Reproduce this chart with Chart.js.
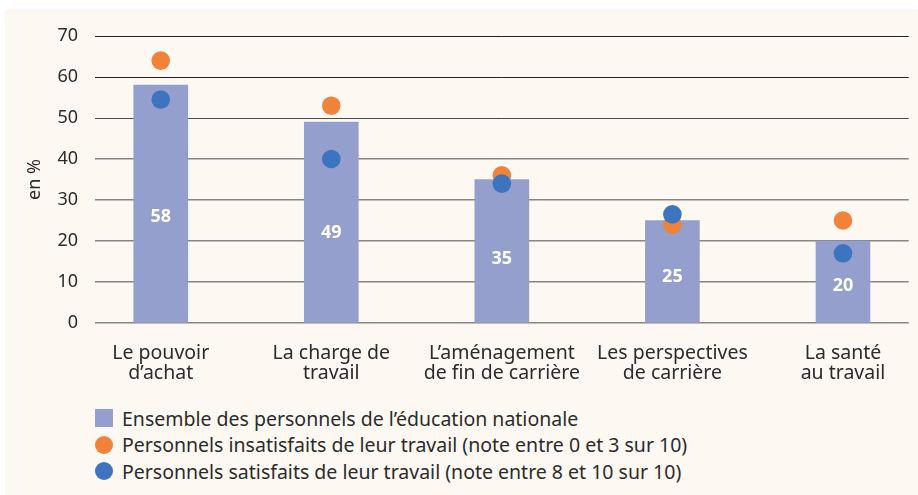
<!DOCTYPE html>
<html lang="fr">
<head>
  <meta charset="UTF-8">
  <title>Préoccupations des personnels de l'éducation nationale</title>
  <script src="https://cdn.jsdelivr.net/npm/chart.js"></script>
  <style>
    html, body { margin: 0; padding: 0; background: #ffffff; }
    body { width: 918px; height: 495px; position: relative; overflow: hidden; font-family: "Noto Sans", sans-serif; }
    .panel { position: absolute; left: 5px; top: 9px; right: 0; bottom: 0; background: #fdf8f2; }
    .chart-box { position: absolute; left: 0; top: 0; width: 918px; height: 400px; }
    #legend { position: absolute; left: 95px; top: 405px; margin: 0; padding: 0; list-style: none; }
    #legend li { height: 26.5px; display: flex; align-items: center; font-size: 19.5px; color: #2b2b2b; }
    #legend .mark { width: 18px; height: 18px; margin-right: 9px; flex: none; }
    #legend .mark.dot { border-radius: 50%; }
  </style>
</head>
<body>
<div class="panel"></div>
<div class="chart-box"><canvas id="chart" width="918" height="400"></canvas></div>
<ul id="legend"></ul>

<script>
  const categories = [
    ['Le pouvoir', 'd’achat'],
    ['La charge de', 'travail'],
    ['L’aménagement', 'de fin de carrière'],
    ['Les perspectives', 'de carrière'],
    ['La santé', 'au travail']
  ];
  const ensemble = [58, 49, 35, 25, 20];
  const insatisfaits = [64, 53, 36, 24, 25];
  const satisfaits = [54.5, 40, 34, 26.5, 17];
  const yTicks = [0, 10, 20, 30, 40, 50, 60, 70];

  const seriesNames = [
    'Ensemble des personnels de l’éducation nationale',
    'Personnels insatisfaits de leur travail (note entre 0 et 3 sur 10)',
    'Personnels satisfaits de leur travail (note entre 8 et 10 sur 10)'
  ];
  const colors = ['#959fce', '#f0823a', '#3d74bf'];

  const toPoints = arr => arr.map((v, i) => ({ x: i, y: v }));

  // étiquettes blanches dans les barres
  const barLabels = {
    id: 'barLabels',
    afterDatasetsDraw(chart) {
      const ctx = chart.ctx;
      const meta = chart.getDatasetMeta(2);
      ctx.save();
      ctx.fillStyle = '#ffffff';
      ctx.font = 'bold 18px "Noto Sans"';
      ctx.textAlign = 'center';
      ctx.textBaseline = 'middle';
      meta.data.forEach((bar, i) => {
        const y = bar.y + (bar.base - bar.y) * 0.555;
        ctx.fillText(String(ensemble[i]), bar.x, y);
      });
      ctx.restore();
    }
  };

  const chart = new Chart(document.getElementById('chart'), {
    type: 'bar',
    data: {
      datasets: [
        {
          type: 'scatter',
          label: seriesNames[2],
          data: toPoints(satisfaits),
          backgroundColor: colors[2],
          borderWidth: 0,
          pointRadius: 9.3,
          order: 1
        },
        {
          type: 'scatter',
          label: seriesNames[1],
          data: toPoints(insatisfaits),
          backgroundColor: colors[1],
          borderWidth: 0,
          pointRadius: 9.3,
          order: 2
        },
        {
          type: 'bar',
          label: seriesNames[0],
          data: toPoints(ensemble),
          backgroundColor: colors[0],
          barThickness: 54,
          order: 3
        }
      ]
    },
    options: {
      responsive: false,
      animation: false,
      layout: { padding: { top: 36, right: 6, left: 0, bottom: 0 } },
      plugins: {
        legend: { display: false },
        tooltip: { enabled: false }
      },
      scales: {
        x: {
          type: 'linear',
          min: -0.3854,
          max: 4.3854,
          offset: false,
          grid: { display: false, offset: false },
          border: { display: false },
          afterBuildTicks: scale => { scale.ticks = categories.map((c, i) => ({ value: i })); },
          afterFit: scale => { scale.height = 77; },
          ticks: {
            autoSkip: false,
            maxRotation: 0,
            padding: 13,
            color: '#2b2b2b',
            font: { family: '"Noto Sans"', size: 19.5, lineHeight: 1.0 },
            callback: value => categories[value]
          }
        },
        y: {
          min: 0,
          max: 70,
          afterBuildTicks: scale => { scale.ticks = yTicks.map(v => ({ value: v })); },
          afterFit: scale => { scale.width = 95; },
          border: { display: false },
          grid: {
            drawTicks: false,
            color: c => c.tick.value >= 60 ? '#222222' : (c.tick.value === 50 ? '#4a4a4a' : '#858585'),
            lineWidth: c => c.tick.value >= 50 ? 1 : 1.4
          },
          ticks: {
            padding: 17,
            color: '#2b2b2b',
            font: { family: '"Noto Sans"', size: 18 }
          },
          title: {
            display: true,
            text: 'en %',
            color: '#2b2b2b',
            font: { family: '"Noto Sans"', size: 18 },
            padding: { top: 24, bottom: 0 }
          }
        }
      }
    },
    plugins: [barLabels]
  });

  // légende en HTML, une entrée par ligne
  const legend = document.getElementById('legend');
  [0, 1, 2].forEach(i => {
    const li = document.createElement('li');
    li.innerHTML = '<span class="mark' + (i > 0 ? ' dot' : '') + '" style="background:' + colors[i] + '"></span>' + seriesNames[i];
    legend.appendChild(li);
  });
</script>
</body>
</html>
